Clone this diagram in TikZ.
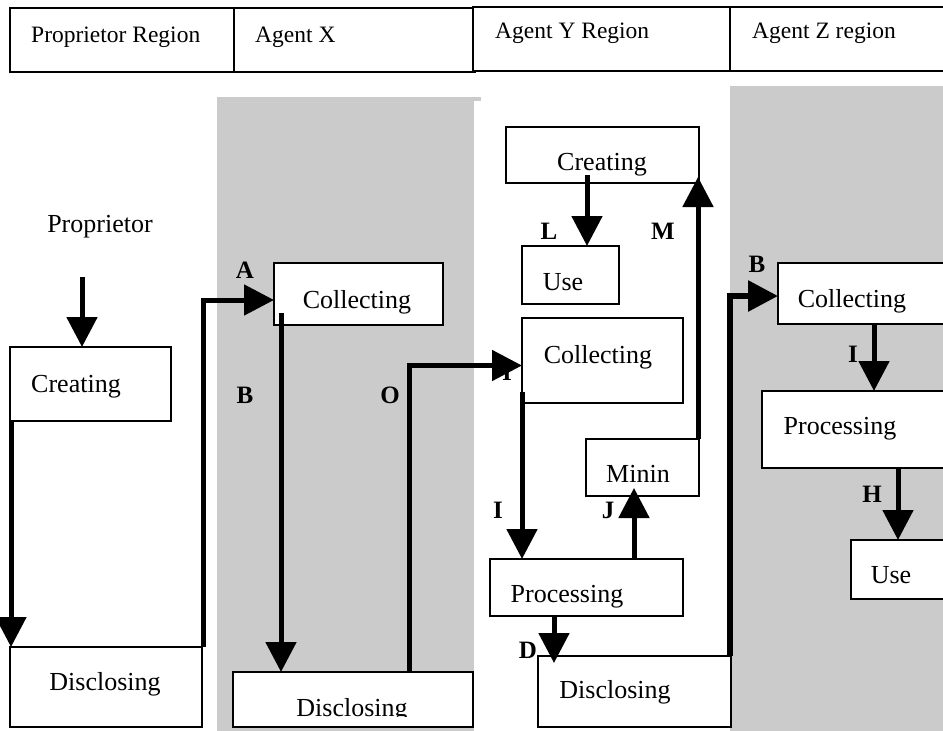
\documentclass[tikz,border=0pt]{standalone}
\usepackage{fontspec}
\setmainfont{Liberation Serif}
\usetikzlibrary{arrows.meta,calc}
\definecolor{lane}{RGB}{203,203,203}
\tikzset{
  box/.style={draw, line width=1.3pt, fill=white, inner sep=0pt, outer sep=0pt, anchor=north west},
  hbox/.style={box, line width=1.8pt},
  txt/.style={anchor=base, inner sep=0pt, font=\fontsize{26}{30}\selectfont},
  htxt/.style={anchor=base west, inner sep=0pt, font=\fontsize{23.5}{28}\selectfont},
  lbl/.style={anchor=base, inner sep=0pt, font=\fontsize{25}{30}\selectfont\bfseries},
  flow/.style={line width=5pt, -{Triangle[length=30pt,width=30pt]}},
}
% \flowbox[style]{name}{x1}{y1}{x2}{y2}: empty framed box between two corners
\newcommand{\flowbox}[6][box]{\node[#1, minimum width={#5-#3}, minimum height={#6-#4}] (#2) at (#3,#4) {};}
\begin{document}
\begin{tikzpicture}[x=1pt,y=-1pt]
\clip (0,0) rectangle (943,731);
\fill[white] (0,0) rectangle (943,731);

% shaded lanes of agents X and Z
\fill[lane] (217,97) rectangle (474,731);
\fill[lane] (474,97) rectangle (481,101);
\fill[lane] (730,86) rectangle (943,731);

% header row
\flowbox[hbox]{hd1}{10}{8}{234}{72}
\flowbox[hbox]{hd2}{234}{8}{475}{72}
\flowbox[hbox]{hd3}{473}{7}{730}{71}
\flowbox[hbox]{hd4}{730}{7}{950}{71}
\node[htxt] (hdt1) at (31,42) {Proprietor Region};
\node[htxt] (hdt2) at (255,42) {Agent X};
\node[htxt] (hdt3) at (495,38) {Agent Y Region};
\node[htxt] (hdt4) at (752,38) {Agent Z region};

% proprietor lane
\node[txt] (prop) at (100,232) {Proprietor};
\flowbox{crP}{10}{347}{171}{421}
\node[txt] at (76,392) {Creating};
\flowbox{dsP}{10}{647}{202}{727}
\node[txt] at (105,690) {Disclosing};

% agent X lane
\flowbox{cxX}{274}{263}{443}{325}
\node[txt] at (357,308) {Collecting};
\flowbox{dsX}{233}{672}{473}{727}
\begin{scope}
  \clip (233,672) rectangle (473,716);
  \node[txt] at (352,716) {Disclosing};
\end{scope}

% agent Y lane
\flowbox{crY}{506}{127}{699}{183}
\node[txt] at (602,170) {Creating};
\flowbox{useY}{522}{246}{619}{304}
\node[txt] at (563,290) {Use};
\flowbox{cxY}{522}{318}{683}{403}
\node[txt] at (598,363) {Collecting};
\flowbox{mnY}{586}{439}{699}{496}
\node[txt] at (638,482) {Minin};
\flowbox{prY}{490}{559}{683}{616}
\node[txt] at (567,602) {Processing};
\flowbox{dsY}{538}{656}{731}{727}
\node[txt] at (615,698) {Disclosing};

% agent Z lane
\flowbox{cxZ}{778}{263}{950}{324}
\node[txt] at (852,307) {Collecting};
\flowbox{prZ}{762}{391}{950}{468}
\node[txt] at (840,434) {Processing};
\flowbox{useZ}{851}{540}{950}{599}
\node[txt] at (891,583) {Use};

% flow labels
\node[lbl] (lA) at (245,278) {A};
\node[lbl] (lB) at (245,403) {B};
\node[lbl] (lO) at (390,403) {O};
\node[lbl] (lI0) at (507,380) {I};
\node[lbl] (lI1) at (498,518) {I};
\node[lbl] (lJ) at (608,518) {J};
\node[lbl] (lD) at (528,658) {D};
\node[lbl] (lL) at (549,239) {L};
\node[lbl] (lM) at (663,239) {M};
\node[lbl] (lB2) at (757,272) {B};
\node[lbl] (lI2) at (853,362) {I};
\node[lbl] (lH) at (872,502) {H};

% flows
\coordinate (pS) at (82,277);
\draw[flow] (pS) -- (pS |- crP.north);

\coordinate (c1) at ([xshift=1pt]crP.south west);
\draw[flow] (c1) -- (c1 |- dsP.north);

\draw[flow] ([xshift=1pt]dsP.north east) |- ([yshift=-6pt]cxX.west);

\coordinate (c2) at ([shift={(7pt,12pt)}]cxX.south west);
\draw[flow] (c2) -- (c2 |- dsX.north);

\coordinate (c3) at ([xshift=176pt]dsX.north west);
\draw[flow] (c3) |- ([yshift=-5pt]cxY.west);

\coordinate (c4) at ([yshift=11pt]cxY.south west);
\draw[flow] (c4) -- (c4 |- prY.north);

\coordinate (c5) at ([xshift=144pt]prY.north west);
\draw[flow, shorten >=-8pt] (c5) -- (c5 |- mnY.south);

\coordinate (c6) at ([xshift=-1pt]mnY.north east);
\draw[flow, shorten >=-6pt] (c6) -- (c6 |- crY.south);

\coordinate (c7) at ([shift={(81pt,8pt)}]crY.south west);
\draw[flow] (c7) -- (c7 |- useY.north);

\coordinate (c8) at ([xshift=64pt]prY.south west);
\draw[flow, shorten >=-7pt] (c8) -- (c8 |- dsY.north);

\coordinate (c9) at ([xshift=-1pt]dsY.north east);
\draw[flow, line width=6pt] (c9) |- ([yshift=-2.5pt]cxZ.west);

\coordinate (c10) at ([xshift=96pt]cxZ.south west);
\draw[flow] (c10) -- (c10 |- prZ.north);

\coordinate (c11) at ([xshift=136pt]prZ.south west);
\draw[flow] (c11) -- (c11 |- useZ.north);
\end{tikzpicture}
\end{document}
